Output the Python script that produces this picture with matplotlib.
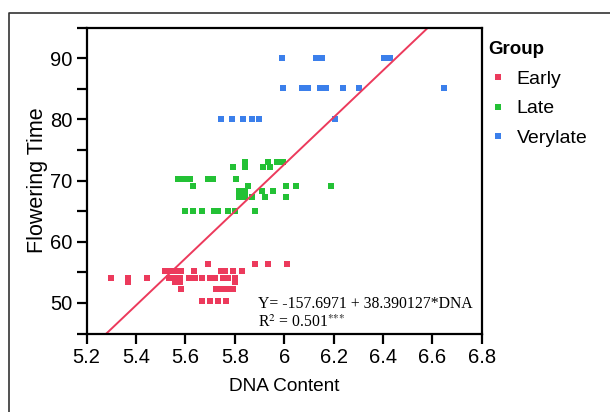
import matplotlib
matplotlib.use("Agg")
import matplotlib.pyplot as plt
from matplotlib.lines import Line2D
import numpy as np

plt.rcParams['font.family'] = ['Liberation Sans', 'DejaVu Sans']
plt.rcParams['mathtext.fontset'] = 'stix'

# DNA content / flowering time
early_dna = [5.693, 5.882, 5.936, 6.013,
             5.517, 5.541, 5.566, 5.582, 5.636, 5.744, 5.760, 5.791, 5.828,
             5.297, 5.368, 5.445, 5.533, 5.558, 5.578, 5.616, 5.639, 5.666,
             5.699, 5.720, 5.751, 5.773, 5.801,
             5.368, 5.558, 5.578, 5.801,
             5.582, 5.724, 5.748, 5.772, 5.793,
             5.668, 5.699, 5.731, 5.764]
early_ft = [56.3] * 4 + [55.15] * 9 + [54.05] * 14 + [53.35] * 4 + [52.2] * 5 + [50.3] * 4

late_dna = [5.841, 5.936, 5.970, 5.996,
            5.791, 5.841, 5.915, 5.942,
            5.569, 5.594, 5.618, 5.691, 5.712, 5.803,
            5.632, 5.855, 6.006, 6.048, 6.190,
            5.816, 5.841, 5.909, 5.956,
            5.816, 5.841, 5.868, 5.923, 6.006,
            5.598, 5.632, 5.668, 5.716, 5.733, 5.771, 5.801, 5.882]
late_ft = [73.1] * 4 + [72.2] * 4 + [70.3] * 6 + [69.1] * 5 + [68.3] * 4 + [67.3] * 5 + [65.1] * 8

verylate_dna = [5.990, 6.129, 6.153, 6.405, 6.430,
                5.996, 6.073, 6.098, 6.145, 6.169, 6.237, 6.302, 6.648,
                5.744, 5.790, 5.832, 5.868, 5.899, 6.207]
verylate_ft = [90.1] * 5 + [85.2] * 8 + [80.0] * 6

x_ticks = [5.2, 5.4, 5.6, 5.8, 6.0, 6.2, 6.4, 6.6, 6.8]
x_ticklabels = ['5.2', '5.4', '5.6', '5.8', '6', '6.2', '6.4', '6.6', '6.8']
y_ticks = [50, 60, 70, 80, 90]
y_minor = [45, 55, 65, 75, 85, 95]

intercept = -157.6971
slope = 38.390127

red = '#EC3A5C'
green = '#23C135'
blue = '#3B7FEB'

fig = plt.figure(figsize=(6.10, 4.12), dpi=100)
ax = fig.add_axes([0.1421, 0.1905, 0.6475, 0.7422])

ms = 4.2
ax.plot(early_dna, early_ft, 's', color=red, ms=ms, mew=0, label='Early')
ax.plot(late_dna, late_ft, 's', color=green, ms=ms, mew=0, label='Late')
ax.plot(verylate_dna, verylate_ft, 's', color=blue, ms=ms, mew=0, label='Verylate')

xs = np.array([5.2, 6.8])
ax.plot(xs, intercept + slope * xs, color=red, lw=1.4)

ax.set_xlim(5.2, 6.8)
ax.set_ylim(45, 95)
ax.set_xticks(x_ticks)
ax.set_xticklabels(x_ticklabels)
ax.set_yticks(y_ticks)
ax.set_yticks(y_minor, minor=True)
ax.tick_params(which='both', direction='out', width=1.6, length=7, labelsize=14.5, color='black')
for s in ax.spines.values():
    s.set_linewidth(1.6)

ax.set_xlabel('DNA Content', fontsize=13.7, labelpad=8)
ax.set_ylabel('Flowering Time', fontsize=15.5, labelpad=1)

ax.text(0.434, 0.098, 'Y= -157.6971 + 38.390127*DNA', transform=ax.transAxes,
        fontsize=11.3, family='Liberation Serif', va='center')
ax.text(0.434, 0.034, r'R$^2$ = 0.501$^{{*}{*}{*}}$', transform=ax.transAxes,
        fontsize=11.3, family='Liberation Serif', va='center')

handles = [Line2D([], [], ls='none', marker='s', color=c, ms=4.2, mew=0) for c in (red, green, blue)]
leg = ax.legend(handles, ['Early', 'Late', 'Verylate'], title='Group',
                loc='upper left', bbox_to_anchor=(1.017, 0.9565), frameon=False,
                fontsize=14, title_fontsize=13.5, handlelength=1.0,
                handletextpad=0.45, labelspacing=0.62, borderaxespad=0, borderpad=0)
leg.get_title().set_fontweight('bold')
leg._legend_box.align = 'left'

# outer frame, cut off at right and bottom
fx = 9 / 610
fy = 1 - 13 / 412
fig.add_artist(Line2D([fx, fx, 1.0], [0.0, fy, fy], transform=fig.transFigure,
                      color='#333333', lw=1.2))

fig.savefig('out.png', dpi=100)
